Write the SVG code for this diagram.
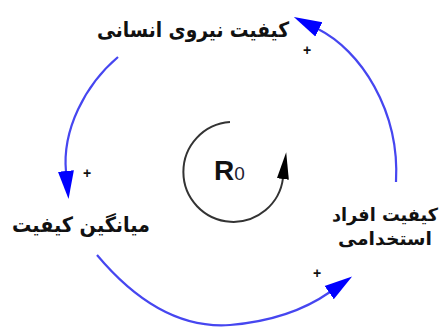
<svg xmlns="http://www.w3.org/2000/svg" width="444" height="327" viewBox="0 0 444 327">
<style>
.lbl{font-family:"DejaVu Sans","Noto Sans",sans-serif;font-weight:bold;font-size:21px;fill:#111;text-anchor:middle}
.sm{font-size:18px}
.pl{font-family:"Liberation Sans",sans-serif;font-size:14px;font-weight:bold;fill:#111;text-anchor:middle}
.link{fill:none;stroke:#4646f0;stroke-width:2.2}
.loop{fill:none;stroke:#333;stroke-width:2}
</style>
<defs>
<marker id="ab" markerUnits="userSpaceOnUse" markerWidth="30" markerHeight="18" refX="1" refY="9" orient="auto">
<path d="M0,1 L28,9 L0,17 z" fill="#0000ff"/>
</marker>
<marker id="ak" markerUnits="userSpaceOnUse" markerWidth="30" markerHeight="14" refX="1" refY="7" orient="auto">
<path d="M0,1 L27,7 L0,13 z" fill="#000"/>
</marker>
</defs>
<g id="connectors">
<path class="link" d="M396,182 C400,110 360,50 318,29" marker-end="url(#ab)"/>
<path class="link" d="M118,57 C85,85 62,130 66,172" marker-end="url(#ab)"/>
<path class="link" d="M97,255 Q160,330 230,325 Q290,320 330,292" marker-end="url(#ab)"/>
<text class="pl" x="307" y="55">+</text>
<text class="pl" x="87" y="178">+</text>
<text class="pl" x="317" y="278">+</text>
</g>
<g id="loop">
<path class="loop" d="M230,122 A50,50 0 1 0 283,178" marker-end="url(#ak)"/>
<text x="214" y="180" font-family="Liberation Sans,sans-serif" font-size="28" font-weight="bold" fill="#111">R<tspan font-weight="normal" font-size="19" fill="#223">0</tspan></text>
</g>
<g id="node-top">
<text class="lbl" x="193" y="37" textLength="192" lengthAdjust="spacingAndGlyphs">کیفیت نیروی انسانی</text>
</g>
<g id="node-left">
<text class="lbl" x="81" y="232" textLength="138" lengthAdjust="spacingAndGlyphs">میانگین کیفیت</text>
</g>
<g id="node-right">
<text class="lbl sm" x="385" y="221" textLength="106" lengthAdjust="spacingAndGlyphs">کیفیت افراد</text>
<text class="lbl sm" x="385" y="245" textLength="94" lengthAdjust="spacingAndGlyphs">استخدامی</text>
</g>
</svg>
